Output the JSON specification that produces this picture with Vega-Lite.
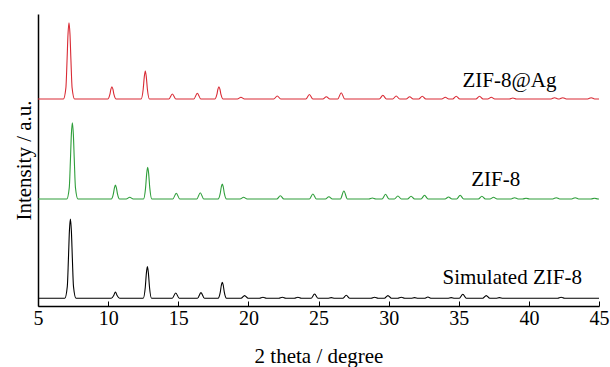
{
"$schema":"https://vega.github.io/schema/vega-lite/v6.json",
"autosize":{"type":"none"},
"padding":{"left":38,"top":14,"right":11,"bottom":61},
"width":561,"height":292,
"background":"white",
"config":{"view":{"stroke":null},"font":"Liberation Serif, Times New Roman, serif"},
"datasets":{
"xrd":[
{"s":"ZIF-8@Ag","t":5,"i":207},
{"s":"ZIF-8@Ag","t":6.81,"i":207},{"s":"ZIF-8@Ag","t":6.99,"i":218.4},{"s":"ZIF-8@Ag","t":7.07,"i":245.2},{"s":"ZIF-8@Ag","t":7.14,"i":271.9},{"s":"ZIF-8@Ag","t":7.21,"i":283.3},{"s":"ZIF-8@Ag","t":7.28,"i":271.9},{"s":"ZIF-8@Ag","t":7.35,"i":245.2},{"s":"ZIF-8@Ag","t":7.43,"i":218.4},{"s":"ZIF-8@Ag","t":7.61,"i":207},
{"s":"ZIF-8@Ag","t":9.97,"i":207},{"s":"ZIF-8@Ag","t":10.12,"i":211.3},{"s":"ZIF-8@Ag","t":10.2,"i":216.8},{"s":"ZIF-8@Ag","t":10.27,"i":219.3},{"s":"ZIF-8@Ag","t":10.34,"i":216.8},{"s":"ZIF-8@Ag","t":10.42,"i":211.3},{"s":"ZIF-8@Ag","t":10.57,"i":207},
{"s":"ZIF-8@Ag","t":12.35,"i":207},{"s":"ZIF-8@Ag","t":12.5,"i":216.8},{"s":"ZIF-8@Ag","t":12.58,"i":229.4},{"s":"ZIF-8@Ag","t":12.65,"i":235},{"s":"ZIF-8@Ag","t":12.72,"i":229.4},{"s":"ZIF-8@Ag","t":12.8,"i":216.8},{"s":"ZIF-8@Ag","t":12.95,"i":207},
{"s":"ZIF-8@Ag","t":14.33,"i":207},{"s":"ZIF-8@Ag","t":14.58,"i":212},{"s":"ZIF-8@Ag","t":14.83,"i":207},
{"s":"ZIF-8@Ag","t":16.11,"i":207},{"s":"ZIF-8@Ag","t":16.36,"i":212.7},{"s":"ZIF-8@Ag","t":16.61,"i":207},
{"s":"ZIF-8@Ag","t":17.6,"i":207},{"s":"ZIF-8@Ag","t":17.75,"i":211.3},{"s":"ZIF-8@Ag","t":17.83,"i":216.8},{"s":"ZIF-8@Ag","t":17.9,"i":219.3},{"s":"ZIF-8@Ag","t":17.97,"i":216.8},{"s":"ZIF-8@Ag","t":18.05,"i":211.3},{"s":"ZIF-8@Ag","t":18.2,"i":207},
{"s":"ZIF-8@Ag","t":19.22,"i":207},{"s":"ZIF-8@Ag","t":19.47,"i":208.7},{"s":"ZIF-8@Ag","t":19.72,"i":207},
{"s":"ZIF-8@Ag","t":21.81,"i":207},{"s":"ZIF-8@Ag","t":22.06,"i":210},{"s":"ZIF-8@Ag","t":22.31,"i":207},
{"s":"ZIF-8@Ag","t":24.1,"i":207},{"s":"ZIF-8@Ag","t":24.35,"i":211.5},{"s":"ZIF-8@Ag","t":24.6,"i":207},
{"s":"ZIF-8@Ag","t":25.31,"i":207},{"s":"ZIF-8@Ag","t":25.56,"i":209.3},{"s":"ZIF-8@Ag","t":25.81,"i":207},
{"s":"ZIF-8@Ag","t":26.37,"i":207},{"s":"ZIF-8@Ag","t":26.62,"i":213.3},{"s":"ZIF-8@Ag","t":26.87,"i":207},
{"s":"ZIF-8@Ag","t":29.34,"i":207},{"s":"ZIF-8@Ag","t":29.59,"i":210.7},{"s":"ZIF-8@Ag","t":29.84,"i":207},
{"s":"ZIF-8@Ag","t":30.29,"i":207},{"s":"ZIF-8@Ag","t":30.54,"i":210},{"s":"ZIF-8@Ag","t":30.79,"i":207},
{"s":"ZIF-8@Ag","t":31.25,"i":207},{"s":"ZIF-8@Ag","t":31.5,"i":209.3},{"s":"ZIF-8@Ag","t":31.75,"i":207},
{"s":"ZIF-8@Ag","t":32.15,"i":207},{"s":"ZIF-8@Ag","t":32.4,"i":209.7},{"s":"ZIF-8@Ag","t":32.65,"i":207},
{"s":"ZIF-8@Ag","t":33.79,"i":207},{"s":"ZIF-8@Ag","t":34.04,"i":208.7},{"s":"ZIF-8@Ag","t":34.29,"i":207},
{"s":"ZIF-8@Ag","t":34.57,"i":207},{"s":"ZIF-8@Ag","t":34.82,"i":209.7},{"s":"ZIF-8@Ag","t":35.07,"i":207},
{"s":"ZIF-8@Ag","t":36.23,"i":207},{"s":"ZIF-8@Ag","t":36.48,"i":209.7},{"s":"ZIF-8@Ag","t":36.73,"i":207},
{"s":"ZIF-8@Ag","t":37.07,"i":207},{"s":"ZIF-8@Ag","t":37.32,"i":208.7},{"s":"ZIF-8@Ag","t":37.57,"i":207},
{"s":"ZIF-8@Ag","t":38.61,"i":207},{"s":"ZIF-8@Ag","t":38.86,"i":208},{"s":"ZIF-8@Ag","t":39.11,"i":207},
{"s":"ZIF-8@Ag","t":41.58,"i":207},{"s":"ZIF-8@Ag","t":41.83,"i":208.3},{"s":"ZIF-8@Ag","t":42.08,"i":207},
{"s":"ZIF-8@Ag","t":42.17,"i":207},{"s":"ZIF-8@Ag","t":42.42,"i":208.3},{"s":"ZIF-8@Ag","t":42.67,"i":207},
{"s":"ZIF-8@Ag","t":44.19,"i":207},{"s":"ZIF-8@Ag","t":44.44,"i":208.3},{"s":"ZIF-8@Ag","t":44.69,"i":207},
{"s":"ZIF-8@Ag","t":45,"i":207},

{"s":"ZIF-8","t":5,"i":107},
{"s":"ZIF-8","t":7.05,"i":107},{"s":"ZIF-8","t":7.23,"i":118.4},{"s":"ZIF-8","t":7.31,"i":145.2},{"s":"ZIF-8","t":7.38,"i":171.9},{"s":"ZIF-8","t":7.45,"i":183.3},{"s":"ZIF-8","t":7.52,"i":171.9},{"s":"ZIF-8","t":7.59,"i":145.2},{"s":"ZIF-8","t":7.67,"i":118.4},{"s":"ZIF-8","t":7.85,"i":107},
{"s":"ZIF-8","t":10.22,"i":107},{"s":"ZIF-8","t":10.37,"i":111.9},{"s":"ZIF-8","t":10.45,"i":118.2},{"s":"ZIF-8","t":10.52,"i":121},{"s":"ZIF-8","t":10.59,"i":118.2},{"s":"ZIF-8","t":10.67,"i":111.9},{"s":"ZIF-8","t":10.82,"i":107},
{"s":"ZIF-8","t":11.29,"i":107},{"s":"ZIF-8","t":11.54,"i":108.7},{"s":"ZIF-8","t":11.79,"i":107},
{"s":"ZIF-8","t":12.52,"i":107},{"s":"ZIF-8","t":12.67,"i":118.1},{"s":"ZIF-8","t":12.75,"i":132.4},{"s":"ZIF-8","t":12.82,"i":138.7},{"s":"ZIF-8","t":12.89,"i":132.4},{"s":"ZIF-8","t":12.97,"i":118.1},{"s":"ZIF-8","t":13.12,"i":107},
{"s":"ZIF-8","t":14.61,"i":107},{"s":"ZIF-8","t":14.86,"i":112.7},{"s":"ZIF-8","t":15.11,"i":107},
{"s":"ZIF-8","t":16.32,"i":107},{"s":"ZIF-8","t":16.57,"i":113.3},{"s":"ZIF-8","t":16.82,"i":107},
{"s":"ZIF-8","t":17.84,"i":107},{"s":"ZIF-8","t":17.99,"i":112.3},{"s":"ZIF-8","t":18.07,"i":119},{"s":"ZIF-8","t":18.14,"i":122},{"s":"ZIF-8","t":18.21,"i":119},{"s":"ZIF-8","t":18.29,"i":112.3},{"s":"ZIF-8","t":18.44,"i":107},
{"s":"ZIF-8","t":19.41,"i":107},{"s":"ZIF-8","t":19.66,"i":108.7},{"s":"ZIF-8","t":19.91,"i":107},
{"s":"ZIF-8","t":22.03,"i":107},{"s":"ZIF-8","t":22.28,"i":110.3},{"s":"ZIF-8","t":22.53,"i":107},
{"s":"ZIF-8","t":24.35,"i":107},{"s":"ZIF-8","t":24.6,"i":112},{"s":"ZIF-8","t":24.85,"i":107},
{"s":"ZIF-8","t":25.49,"i":107},{"s":"ZIF-8","t":25.74,"i":109.3},{"s":"ZIF-8","t":25.99,"i":107},
{"s":"ZIF-8","t":26.56,"i":107},{"s":"ZIF-8","t":26.81,"i":115},{"s":"ZIF-8","t":27.06,"i":107},
{"s":"ZIF-8","t":28.59,"i":107},{"s":"ZIF-8","t":28.84,"i":108},{"s":"ZIF-8","t":29.09,"i":107},
{"s":"ZIF-8","t":29.53,"i":107},{"s":"ZIF-8","t":29.78,"i":111.7},{"s":"ZIF-8","t":30.03,"i":107},
{"s":"ZIF-8","t":30.41,"i":107},{"s":"ZIF-8","t":30.66,"i":110},{"s":"ZIF-8","t":30.91,"i":107},
{"s":"ZIF-8","t":31.35,"i":107},{"s":"ZIF-8","t":31.6,"i":109.7},{"s":"ZIF-8","t":31.85,"i":107},
{"s":"ZIF-8","t":32.31,"i":107},{"s":"ZIF-8","t":32.56,"i":110.7},{"s":"ZIF-8","t":32.81,"i":107},
{"s":"ZIF-8","t":34.02,"i":107},{"s":"ZIF-8","t":34.27,"i":109},{"s":"ZIF-8","t":34.52,"i":107},
{"s":"ZIF-8","t":34.85,"i":107},{"s":"ZIF-8","t":35.1,"i":110.7},{"s":"ZIF-8","t":35.35,"i":107},
{"s":"ZIF-8","t":36.4,"i":107},{"s":"ZIF-8","t":36.65,"i":109.7},{"s":"ZIF-8","t":36.9,"i":107},
{"s":"ZIF-8","t":37.23,"i":107},{"s":"ZIF-8","t":37.48,"i":108.7},{"s":"ZIF-8","t":37.73,"i":107},
{"s":"ZIF-8","t":38.73,"i":107},{"s":"ZIF-8","t":38.98,"i":108.3},{"s":"ZIF-8","t":39.23,"i":107},
{"s":"ZIF-8","t":39.55,"i":107},{"s":"ZIF-8","t":39.8,"i":107.7},{"s":"ZIF-8","t":40.05,"i":107},
{"s":"ZIF-8","t":41.7,"i":107},{"s":"ZIF-8","t":41.95,"i":108.3},{"s":"ZIF-8","t":42.2,"i":107},
{"s":"ZIF-8","t":43.05,"i":107},{"s":"ZIF-8","t":43.3,"i":108.3},{"s":"ZIF-8","t":43.55,"i":107},
{"s":"ZIF-8","t":44.43,"i":107},{"s":"ZIF-8","t":44.68,"i":107.7},{"s":"ZIF-8","t":44.93,"i":107},
{"s":"ZIF-8","t":45,"i":107},

{"s":"Simulated ZIF-8","t":5,"i":7.7},
{"s":"Simulated ZIF-8","t":6.91,"i":7.7},{"s":"Simulated ZIF-8","t":7.09,"i":19.6},{"s":"Simulated ZIF-8","t":7.17,"i":47.4},{"s":"Simulated ZIF-8","t":7.24,"i":75.1},{"s":"Simulated ZIF-8","t":7.31,"i":87},{"s":"Simulated ZIF-8","t":7.38,"i":75.1},{"s":"Simulated ZIF-8","t":7.45,"i":47.4},{"s":"Simulated ZIF-8","t":7.53,"i":19.6},{"s":"Simulated ZIF-8","t":7.71,"i":7.7},
{"s":"Simulated ZIF-8","t":10.22,"i":7.7},{"s":"Simulated ZIF-8","t":10.4,"i":10.5},{"s":"Simulated ZIF-8","t":10.52,"i":14},{"s":"Simulated ZIF-8","t":10.64,"i":10.5},{"s":"Simulated ZIF-8","t":10.82,"i":7.7},
{"s":"Simulated ZIF-8","t":12.5,"i":7.7},{"s":"Simulated ZIF-8","t":12.65,"i":18.8},{"s":"Simulated ZIF-8","t":12.73,"i":33.1},{"s":"Simulated ZIF-8","t":12.8,"i":39.4},{"s":"Simulated ZIF-8","t":12.87,"i":33.1},{"s":"Simulated ZIF-8","t":12.95,"i":18.8},{"s":"Simulated ZIF-8","t":13.1,"i":7.7},
{"s":"Simulated ZIF-8","t":14.57,"i":7.7},{"s":"Simulated ZIF-8","t":14.82,"i":13},{"s":"Simulated ZIF-8","t":15.07,"i":7.7},
{"s":"Simulated ZIF-8","t":16.37,"i":7.7},{"s":"Simulated ZIF-8","t":16.62,"i":13.4},{"s":"Simulated ZIF-8","t":16.87,"i":7.7},
{"s":"Simulated ZIF-8","t":17.84,"i":7.7},{"s":"Simulated ZIF-8","t":17.99,"i":13.3},{"s":"Simulated ZIF-8","t":18.07,"i":20.5},{"s":"Simulated ZIF-8","t":18.14,"i":23.7},{"s":"Simulated ZIF-8","t":18.21,"i":20.5},{"s":"Simulated ZIF-8","t":18.29,"i":13.3},{"s":"Simulated ZIF-8","t":18.44,"i":7.7},
{"s":"Simulated ZIF-8","t":19.48,"i":7.7},{"s":"Simulated ZIF-8","t":19.73,"i":10.4},{"s":"Simulated ZIF-8","t":19.98,"i":7.7},
{"s":"Simulated ZIF-8","t":20.79,"i":7.7},{"s":"Simulated ZIF-8","t":21.04,"i":8.7},{"s":"Simulated ZIF-8","t":21.29,"i":7.7},
{"s":"Simulated ZIF-8","t":22.17,"i":7.7},{"s":"Simulated ZIF-8","t":22.42,"i":8.7},{"s":"Simulated ZIF-8","t":22.67,"i":7.7},
{"s":"Simulated ZIF-8","t":23.28,"i":7.7},{"s":"Simulated ZIF-8","t":23.53,"i":8.7},{"s":"Simulated ZIF-8","t":23.78,"i":7.7},
{"s":"Simulated ZIF-8","t":24.47,"i":7.7},{"s":"Simulated ZIF-8","t":24.72,"i":12},{"s":"Simulated ZIF-8","t":24.97,"i":7.7},
{"s":"Simulated ZIF-8","t":25.66,"i":7.7},{"s":"Simulated ZIF-8","t":25.91,"i":8.4},{"s":"Simulated ZIF-8","t":26.16,"i":7.7},
{"s":"Simulated ZIF-8","t":26.73,"i":7.7},{"s":"Simulated ZIF-8","t":26.98,"i":10.7},{"s":"Simulated ZIF-8","t":27.23,"i":7.7},
{"s":"Simulated ZIF-8","t":28.75,"i":7.7},{"s":"Simulated ZIF-8","t":29,"i":8.7},{"s":"Simulated ZIF-8","t":29.25,"i":7.7},
{"s":"Simulated ZIF-8","t":29.7,"i":7.7},{"s":"Simulated ZIF-8","t":29.95,"i":10.4},{"s":"Simulated ZIF-8","t":30.2,"i":7.7},
{"s":"Simulated ZIF-8","t":30.65,"i":7.7},{"s":"Simulated ZIF-8","t":30.9,"i":8.7},{"s":"Simulated ZIF-8","t":31.15,"i":7.7},
{"s":"Simulated ZIF-8","t":31.6,"i":7.7},{"s":"Simulated ZIF-8","t":31.85,"i":8.4},{"s":"Simulated ZIF-8","t":32.1,"i":7.7},
{"s":"Simulated ZIF-8","t":32.55,"i":7.7},{"s":"Simulated ZIF-8","t":32.8,"i":9},{"s":"Simulated ZIF-8","t":33.05,"i":7.7},
{"s":"Simulated ZIF-8","t":34.21,"i":7.7},{"s":"Simulated ZIF-8","t":34.46,"i":8.4},{"s":"Simulated ZIF-8","t":34.71,"i":7.7},
{"s":"Simulated ZIF-8","t":35.04,"i":7.7},{"s":"Simulated ZIF-8","t":35.29,"i":11.7},{"s":"Simulated ZIF-8","t":35.54,"i":7.7},
{"s":"Simulated ZIF-8","t":36.71,"i":7.7},{"s":"Simulated ZIF-8","t":36.96,"i":10.4},{"s":"Simulated ZIF-8","t":37.21,"i":7.7},
{"s":"Simulated ZIF-8","t":37.65,"i":7.7},{"s":"Simulated ZIF-8","t":37.9,"i":8.4},{"s":"Simulated ZIF-8","t":38.15,"i":7.7},
{"s":"Simulated ZIF-8","t":42.05,"i":7.7},{"s":"Simulated ZIF-8","t":42.3,"i":8.7},{"s":"Simulated ZIF-8","t":42.55,"i":7.7},
{"s":"Simulated ZIF-8","t":45,"i":7.7}
],
"labels":[
{"s":"ZIF-8@Ag","t":38.62,"i":218.7},
{"s":"ZIF-8","t":37.64,"i":120},
{"s":"Simulated ZIF-8","t":38.81,"i":22}
]},
"encoding":{
"x":{"field":"t","type":"quantitative","scale":{"domain":[5,45],"nice":false,"zero":false},
"axis":{"title":"2 theta / degree","values":[5,10,15,20,25,30,35,40,45],"grid":false,"domainColor":"black","domainWidth":1.5,"tickColor":"black","tickWidth":1,"tickSize":-5,"labelFont":"Liberation Serif, Times New Roman, serif","labelFontSize":20,"labelColor":"black","labelBaseline":"alphabetic","labelPadding":23,"labelFlush":false,"labelOverlap":false,"titleFont":"Liberation Serif, Times New Roman, serif","titleFontSize":21,"titleFontWeight":"normal","titleColor":"black","titleBaseline":"alphabetic","titleY":56}},
"y":{"field":"i","type":"quantitative","scale":{"domain":[0,292],"nice":false,"zero":false},
"axis":{"title":"Intensity / a.u.","labels":false,"ticks":false,"grid":false,"domainColor":"black","domainWidth":1.5,"titleFont":"Liberation Serif, Times New Roman, serif","titleFontSize":21,"titleFontWeight":"normal","titleColor":"black","titleAngle":270,"titleBaseline":"alphabetic","titleX":-7.5}}
},
"layer":[
{"data":{"name":"xrd"},"mark":{"type":"line","strokeWidth":1.1,"interpolate":"monotone"},
"encoding":{"color":{"field":"s","type":"nominal","legend":null,"scale":{"domain":["ZIF-8@Ag","ZIF-8","Simulated ZIF-8"],"range":["#d92b35","#2e9e3a","#000000"]}}}},
{"data":{"name":"labels"},"mark":{"type":"text","font":"Liberation Serif, Times New Roman, serif","fontSize":21,"align":"center","baseline":"alphabetic","color":"black"},
"encoding":{"text":{"field":"s"}}}
]
}
